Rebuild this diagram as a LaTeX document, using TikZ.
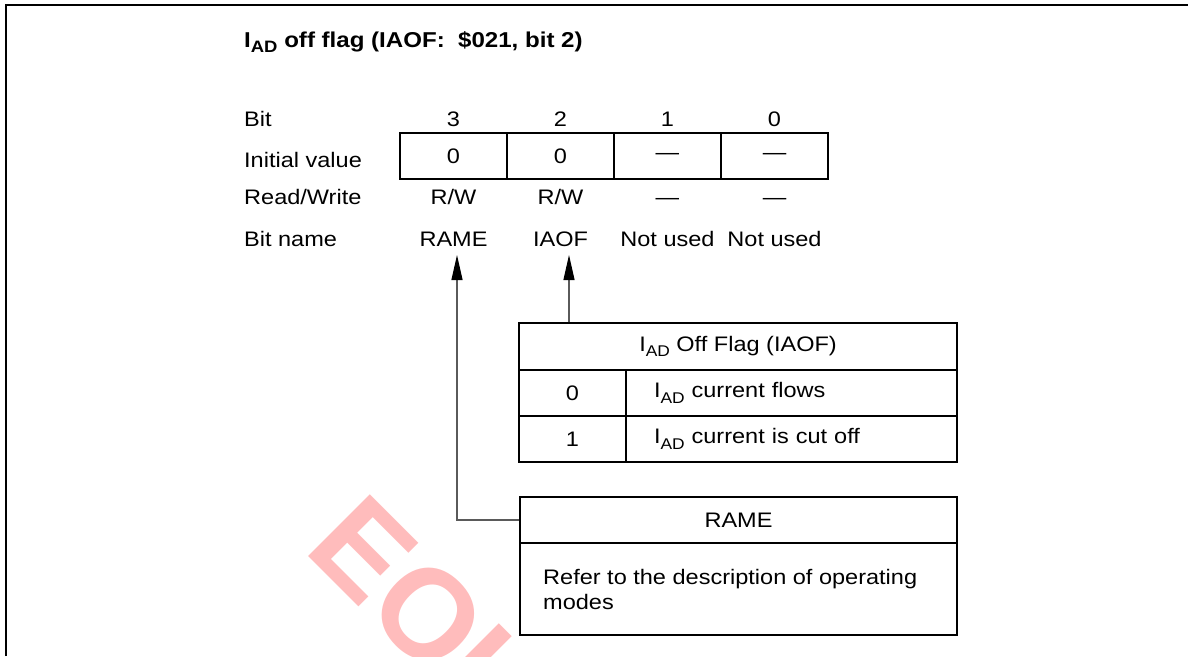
\documentclass[tikz,border=0pt]{standalone}
\usepackage{fontspec}
\setmainfont{Liberation Sans}[FakeStretch=1.12]
\newfontfamily\wmfont{Liberation Sans}
\usetikzlibrary{arrows.meta}
\definecolor{wmpink}{RGB}{255,188,188}
\definecolor{conn}{RGB}{90,90,90}
\newcommand{\subAD}{\raisebox{-0.26em}{\fontsize{15.5}{15.5}\selectfont AD}}
\begin{document}
\begin{tikzpicture}[x=1pt,y=-1pt,
  txt/.style={font=\fontsize{21}{25}\selectfont, inner sep=0pt},
  cell/.style={draw=black, line width=1.2pt, inner sep=0pt, font=\fontsize{21}{25}\selectfont},
  conline/.style={line width=1.1pt, draw=conn},
  tip/.style={-{Triangle[length=25pt,width=11pt,color=black,fill=black]}}
]
\useasboundingbox (0,0) rectangle (1188,656);
% watermark
\begin{scope}
\clip (0,0) rectangle (1188,656);
\node[font=\wmfont\bfseries\fontsize{127}{127}\selectfont, text=wmpink, rotate=-45, anchor=base west, inner sep=0pt] (wm) at (302,550) {EOL};
\end{scope}
% frame
\draw[line width=1.5pt] (6,656) -- (6,5) -- (1188,5);
% title
\node[txt, font=\bfseries\fontsize{21.5}{25}\selectfont, anchor=base west] (title) at (244,47) {I\raisebox{-0.26em}{\fontsize{16.5}{16.5}\selectfont AD} off flag (IAOF:\ \ \$021, bit 2)};
% row labels
\node[txt, anchor=base west] (lbit) at (244,126) {Bit};
\node[txt, anchor=base west] (linit) at (244,167) {Initial value};
\node[txt, anchor=base west] (lrw) at (244,204) {Read/Write};
\node[txt, anchor=base west] (lname) at (244,246) {Bit name};
% bit numbers
\node[txt, anchor=base] (b3) at (453.5,126) {3};
\node[txt, anchor=base] (b2) at (560.5,126) {2};
\node[txt, anchor=base] (b1) at (667.5,126) {1};
\node[txt, anchor=base] (b0) at (774.5,126) {0};
% initial value cells
\node[cell, minimum width=107pt, minimum height=46pt] (c3) at (453.5,156) {0};
\node[cell, minimum width=107pt, minimum height=46pt] (c2) at (560.5,156) {0};
\node[cell, minimum width=107pt, minimum height=46pt] (c1) at (667.5,156) {---};
\node[cell, minimum width=107pt, minimum height=46pt] (c0) at (774.5,156) {---};
% read/write
\node[txt, anchor=base] (rw3) at (453.5,204) {R/W};
\node[txt, anchor=base] (rw2) at (560.5,204) {R/W};
\node[txt, anchor=base] (rw1) at (667.5,204) {---};
\node[txt, anchor=base] (rw0) at (774.5,204) {---};
% bit names
\node[txt, anchor=base] (n3) at (453.5,246) {RAME};
\node[txt, anchor=base] (n2) at (560.5,246) {IAOF};
\node[txt, anchor=base] (n1) at (667.5,246) {Not used};
\node[txt, anchor=base] (n0) at (774.5,246) {Not used};
% arrow tips
\coordinate (ta) at (457,255);
\coordinate (tb) at (569,255);
% IAOF table
\node[cell, minimum width=438pt, minimum height=47pt] (ih) at (738,346.5) {I\subAD{} Off Flag (IAOF)};
\node[cell, minimum width=107pt, minimum height=46pt] (iv0) at (572.5,393) {0};
\node[cell, minimum width=331pt, minimum height=46pt, text width=275pt, inner xsep=28pt, align=left] (id0) at (791.5,393) {I\subAD{} current flows};
\node[cell, minimum width=107pt, minimum height=46pt] (iv1) at (572.5,439) {1};
\node[cell, minimum width=331pt, minimum height=46pt, text width=275pt, inner xsep=28pt, align=left] (id1) at (791.5,439) {I\subAD{} current is cut off};
% RAME box
\node[cell, minimum width=437pt, minimum height=46pt] (rh) at (738.5,520) {RAME};
\node[cell, minimum width=437pt, minimum height=92pt] (rb) at (738.5,589) {};
\node[txt, anchor=west, align=left] (rt) at (543,589) {Refer to the description of operating\\modes};
% connectors
\draw[conline, tip] (ih.north -| tb) -- (tb);
\draw[conline, tip] (rh.west) -- (rh.west -| ta) -- (ta);
\end{tikzpicture}
\end{document}
